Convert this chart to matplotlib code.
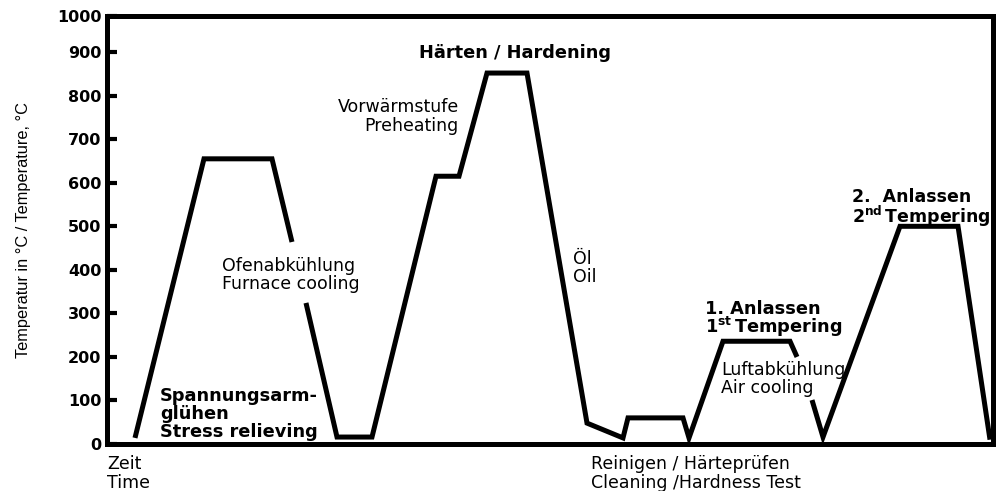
import numpy as np
import matplotlib.pyplot as plt

# time (arbitrary units) and temperature in °C, NaN = gap in the curve for text
time = [28, 97, 165, 185, np.nan, 199, 230, 265, 329, 352, 380, 420, 480, 516,
        521, 576, 582, 616, 683, 690, np.nan, 705, 716, 793, 851, 883]
temp = [14, 655, 655, 464, np.nan, 324, 16, 16, 615, 615, 852, 852, 48, 14,
        60, 60, 14, 236, 236, 200, np.nan, 101, 16, 500, 500, 10]

ytick_vals = [0, 100, 200, 300, 400, 500, 600, 700, 800, 900, 983]
ytick_labels = ["0", "100", "200", "300", "400", "500", "600", "700", "800", "900", "1000"]

fig = plt.figure(figsize=(9.98, 4.91), dpi=100)
ax = fig.add_axes([0.1072, 0.0957, 0.8878, 0.8717])

ax.plot(time, temp, color="black", linewidth=3.6,
        solid_joinstyle="miter", solid_capstyle="butt")

ax.set_xlim(0, 886)
ax.set_ylim(0, 983)
ax.set_xticks([])
ax.set_yticks(ytick_vals)
ax.set_yticklabels(ytick_labels, fontsize=11.5, fontweight="bold")
ax.tick_params(axis="y", direction="in", length=7, width=3, pad=4)
for s in ax.spines.values():
    s.set_linewidth(3.6)

ax.set_ylabel("Temperatur in °C / Temperature, °C", family="Liberation Sans",
              fontsize=11.8, labelpad=19)

reg = dict(fontsize=12.5, color="black", linespacing=1.05)
bold = dict(fontsize=12.8, color="black", fontweight="bold", linespacing=1.0)

ax.text(53, 69, "Spannungsarm-\nglühen\nStress relieving", va="center", ha="left", **bold)
ax.text(115, 388, "Ofenabkühlung\nFurnace cooling", va="center", ha="left", **reg)
ax.text(312, 898, "Härten / Hardening", va="center", ha="left", **bold)
ax.text(352, 753, "Vorwärmstufe\nPreheating", va="center", ha="right",
        multialignment="right", **reg)
ax.text(466, 404, "Öl\nOil", va="center", ha="left", **reg)
ax.text(598, 286, "1. Anlassen\n" + r"1$^{\mathbf{st}}\,$Tempering",
        va="center", ha="left", fontsize=12.8, fontweight="bold", linespacing=0.85)
ax.text(614, 149, "Luftabkühlung\nAir cooling", va="center", ha="left", **reg)
ax.text(745, 541, "2.  Anlassen\n" + r"2$^{\mathbf{nd}}\,$Tempering",
        va="center", ha="left", fontsize=12.5, fontweight="bold", linespacing=0.85)

ax.text(0, -25, "Zeit\nTime", va="top", ha="left", clip_on=False, **reg)
ax.text(484, -25, "Reinigen / Härteprüfen\nCleaning /Hardness Test", va="top",
        ha="left", clip_on=False, **reg)

fig.savefig("out.png", dpi=100)
